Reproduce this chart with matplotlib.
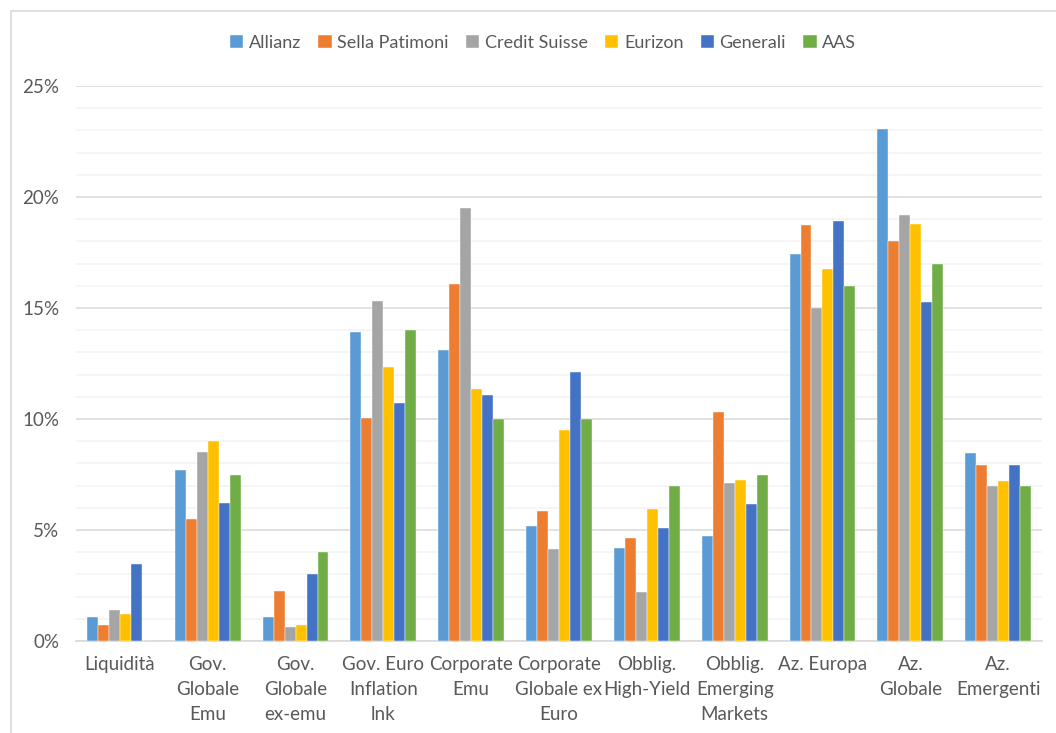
import numpy as np
import matplotlib
matplotlib.use('Agg')
import matplotlib.pyplot as plt
from matplotlib.patches import Rectangle
from matplotlib.ticker import MultipleLocator, FuncFormatter

plt.rcParams['font.family'] = ['Lato', 'DejaVu Sans']

# Categories (wrapped like the original)
categories = ['Liquidità', 'Gov.\nGlobale\nEmu', 'Gov.\nGlobale\nex-emu',
              'Gov. Euro\nInflation\nlnk', 'Corporate\nEmu',
              'Corporate\nGlobale ex\nEuro', 'Obblig.\nHigh-Yield',
              'Obblig.\nEmerging\nMarkets', 'Az. Europa', 'Az.\nGlobale',
              'Az.\nEmergenti']

# Series values in percent
allianz = [1.1, 7.7, 1.1, 13.9, 13.1, 5.2, 4.2, 4.75, 17.45, 23.05, 8.45]
sella = [0.7, 5.5, 2.25, 10.05, 16.1, 5.85, 4.65, 10.3, 18.75, 18.0, 7.93]
credit_suisse = [1.4, 8.5, 0.65, 15.3, 19.5, 4.15, 2.2, 7.1, 15.0, 19.2, 7.0]
eurizon = [1.2, 9.0, 0.72, 12.35, 11.35, 9.5, 5.95, 7.27, 16.75, 18.8, 7.2]
generali = [3.45, 6.2, 3.0, 10.7, 11.1, 12.12, 5.08, 6.17, 18.9, 15.27, 7.95]
aas = [0.0, 7.5, 4.0, 14.0, 10.0, 10.0, 7.0, 7.5, 16.0, 17.0, 7.0]

series_names = ['Allianz', 'Sella Patimoni', 'Credit Suisse', 'Eurizon', 'Generali', 'AAS']
series_vals = [allianz, sella, credit_suisse, eurizon, generali, aas]
colors = ['#5B9BD5', '#ED7D31', '#A5A5A5', '#FFC000', '#4472C4', '#70AD47']

fig = plt.figure(figsize=(10.56, 7.33), dpi=100)
# plot area in pixels: left 76, right 1042, top y=86, bottom y=641
ax = fig.add_axes([76 / 1056, 1 - 641 / 733, (1042 - 76) / 1056, (641 - 86) / 733])

# chart border
fig.patches.append(Rectangle((11 / 1056, -0.01), 1.05, 1 - 11 / 733 + 0.01,
                             transform=fig.transFigure, fill=False,
                             edgecolor='#D9D9D9', linewidth=1.2))

x = np.arange(len(categories))
w = 0.125
for i, (name, vals, c) in enumerate(zip(series_names, series_vals, colors)):
    ax.bar(x + (i - 2.5) * w, vals, width=w, color=c, label=name,
           edgecolor='white', linewidth=0.3, zorder=3)

ax.set_xlim(-0.5, len(categories) - 0.5)
ax.set_ylim(0, 25)
ax.yaxis.set_major_locator(MultipleLocator(5))
ax.yaxis.set_minor_locator(MultipleLocator(1))
ax.yaxis.set_major_formatter(FuncFormatter(lambda v, p: f'{v:.0f}%'))
ax.grid(axis='y', which='major', color='#D9D9D9', linewidth=1.1, zorder=0)
ax.grid(axis='y', which='minor', color='#F2F2F2', linewidth=1.1, zorder=0)
ax.set_axisbelow(True)

for s in ['top', 'right', 'left']:
    ax.spines[s].set_visible(False)
ax.spines['bottom'].set_color('#D9D9D9')
ax.spines['bottom'].set_linewidth(1.2)

ax.set_xticks(x)
ax.set_xticklabels(categories, fontsize=13.5, color='#595959', linespacing=1.55)
ax.tick_params(axis='x', length=0, pad=11)
ax.tick_params(axis='y', which='both', length=0, pad=12, labelsize=13.5, labelcolor='#595959')

fig.legend(loc='center', bbox_to_anchor=(543 / 1056, 1 - 43 / 733), ncol=6, frameon=False,
           fontsize=13, labelcolor='#595959', handlelength=0.75, handleheight=0.75,
           handletextpad=0.3, columnspacing=0.95)

fig.savefig('out.png', dpi=100)
